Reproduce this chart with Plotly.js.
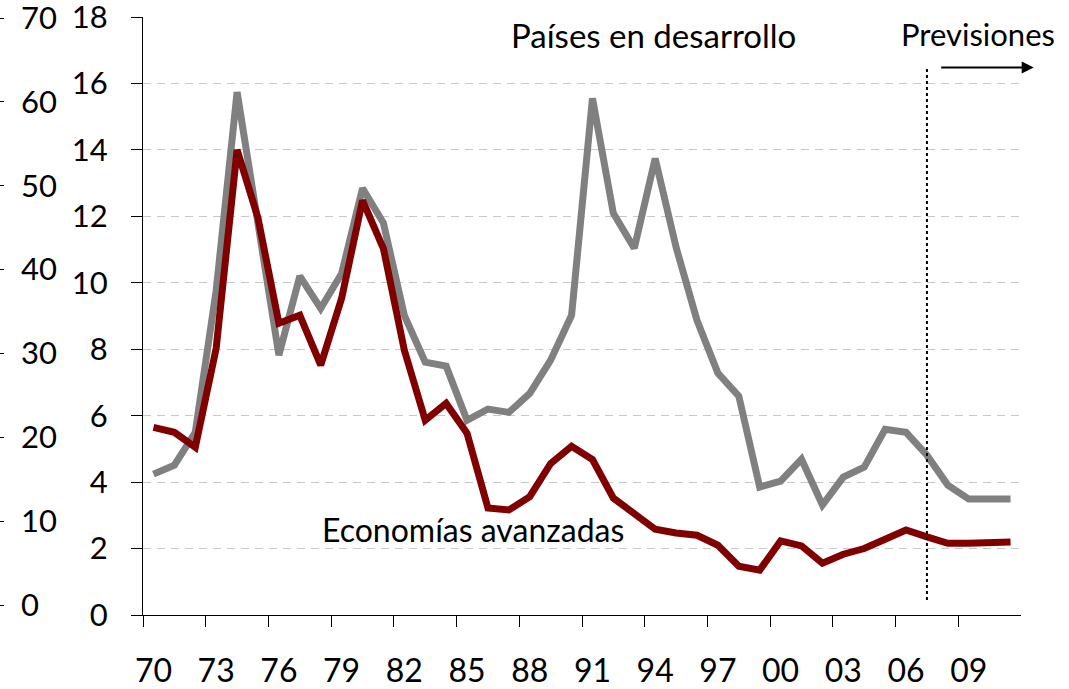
<!DOCTYPE html>
<html>
<head>
<meta charset="utf-8">
<script src="https://cdn.plot.ly/plotly-3.0.1.min.js"></script>
<style>html,body{margin:0;padding:0;background:#fff;}#chart{width:1069px;height:689px;}</style>
</head>
<body>
<div id="chart"></div>
<script>
var years = ['70','71','72','73','74','75','76','77','78','79',
             '80','81','82','83','84','85','86','87','88','89',
             '90','91','92','93','94','95','96','97','98','99',
             '00','01','02','03','04','05','06','07','08','09','10','11'];

var desarrollo = [4.24,4.51,5.5,9.77,15.74,11.9,7.82,10.2,9.23,10.28,
                  12.84,11.8,9.02,7.61,7.49,5.86,6.2,6.1,6.67,7.67,
                  9.02,15.55,12.09,11.04,13.74,11.07,8.87,7.28,6.59,3.85,
                  4.03,4.69,3.31,4.15,4.45,5.59,5.5,4.81,3.91,3.49,3.49,3.49];

var avanzadas = [5.65,5.5,5.05,8.03,14.0,11.95,8.78,9.02,7.52,9.53,
                 12.48,11.03,7.97,5.86,6.37,5.47,3.22,3.16,3.56,4.56,
                 5.08,4.68,3.52,3.06,2.58,2.47,2.4,2.1,1.47,1.35,
                 2.23,2.08,1.56,1.83,2.0,2.28,2.56,2.35,2.16,2.16,2.2,2.2];

var forecastStartIndex = 37; // category '07'
var labelDesarrollo = 'Países en desarrollo';
var labelAvanzadas = 'Economías avanzadas';
var labelPrevisiones = 'Previsiones';

var FONT = 'Lato, "Open Sans", sans-serif';

var traces = [
  {x: years, y: desarrollo, type: 'scatter', mode: 'lines', name: labelDesarrollo,
   line: {color: '#808080', width: 7, shape: 'linear'}, hoverinfo: 'skip'},
  {x: years, y: avanzadas, type: 'scatter', mode: 'lines', name: labelAvanzadas,
   line: {color: '#800000', width: 7}, hoverinfo: 'skip'},
  {x: [], y: [], yaxis: 'y2', type: 'scatter', mode: 'lines', showlegend: false, hoverinfo: 'skip'}
];

var layout = {
  width: 1069, height: 689,
  margin: {l: 4, r: 48, t: 17, b: 74},
  paper_bgcolor: '#ffffff', plot_bgcolor: '#ffffff',
  showlegend: false,
  font: {family: FONT, size: 27, color: '#000'},
  xaxis: {
    type: 'category',
    domain: [0.1367, 1],
    range: [-0.5, 41.5],
    tickmode: 'linear', tick0: 0, dtick: 3,
    tickson: 'boundaries',
    tickangle: 0,
    ticks: 'outside', ticklen: 11, tickcolor: '#000', tickwidth: 1,
    showline: true, linecolor: '#000', linewidth: 1,
    showgrid: false, zeroline: false,
    ticklabelstandoff: 28,
    ticklabeloverflow: 'allow',
    tickfont: {family: FONT, size: 32, color: '#000'}
  },
  yaxis: {
    range: [0, 18],
    tickmode: 'linear', tick0: 0, dtick: 2,
    ticks: 'outside', ticklen: 11, tickcolor: '#000', tickwidth: 1,
    showline: true, linecolor: '#000', linewidth: 1,
    showgrid: true, gridcolor: '#c8c8c8', gridwidth: 1, griddash: '8px,6px',
    zeroline: false,
    ticklabelstandoff: 17,
    ticklabeloverflow: 'allow',
    tickfont: {family: FONT, size: 31, color: '#000'}
  },
  yaxis2: {
    overlaying: 'y', anchor: 'free', position: 0, side: 'right',
    range: [-1.19, 70.12],
    tickmode: 'linear', tick0: 0, dtick: 10,
    ticks: 'inside', ticklen: 4, tickcolor: '#000', tickwidth: 1,
    showline: false, showgrid: false, zeroline: false,
    ticklabelstandoff: 16,
    ticklabeloverflow: 'allow',
    tickfont: {family: FONT, size: 31, color: '#000'}
  },
  shapes: [
    {type: 'line', xref: 'x', yref: 'y', x0: forecastStartIndex, x1: forecastStartIndex, y0: 0.45, y1: 16.45,
     line: {color: '#000', width: 2, dash: 'dot'}}
  ],
  annotations: [
    {text: labelDesarrollo, xref: 'x', yref: 'y', x: 23.9, y: 17.47, showarrow: false,
     font: {family: FONT, size: 33, color: '#000'}},
    {text: labelAvanzadas, xref: 'x', yref: 'y', x: 15.3, y: 2.56, showarrow: false,
     font: {family: FONT, size: 32, color: '#000'}},
    {text: labelPrevisiones, xref: 'x', yref: 'y', x: 39.45, y: 17.5, showarrow: false,
     font: {family: FONT, size: 31, color: '#000'}},
    {text: '', xref: 'paper', yref: 'y', x: 1.0125, y: 16.48, ax: -94, ay: 0,
     showarrow: true, arrowhead: 2, arrowsize: 1.2, arrowwidth: 2, arrowcolor: '#000'}
  ]
};

Plotly.newPlot('chart', traces, layout, {staticPlot: true, displayModeBar: false});
</script>
</body>
</html>
